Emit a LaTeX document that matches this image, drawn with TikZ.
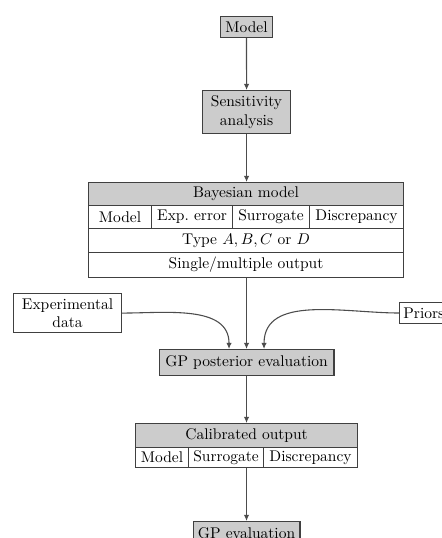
\documentclass[tikz,border=0pt]{standalone}
\usetikzlibrary{calc,arrows.meta}
\begin{document}
\begin{tikzpicture}[x=0.6452pt,y=-0.6452pt,
  cell/.style={draw=black!75,line width=0.7pt,inner sep=0pt,anchor=north west,fill=white},
  graycell/.style={cell,fill=black!20},
  conn/.style={draw=black!70,line width=0.7pt,-{Latex[length=4pt,width=3.5pt]}}]
\useasboundingbox (0,0) rectangle (441,538);
% Model
\node[graycell,minimum width=33.5pt,minimum height=13.5pt] (model) at (220,16) {Model};
% Sensitivity
\node[graycell,minimum width=56.8pt,minimum height=27.7pt,align=center] (sens) at (202,90) {Sensitivity\\analysis};
% Bayesian table
\node[graycell,minimum width=203.2pt,minimum height=14.85pt] (bay) at (88,182) {Bayesian model};
\node[cell,minimum width=40.6pt,minimum height=14.85pt] (bm) at (88,205) {Model};
\node[cell,minimum width=52.3pt,minimum height=14.85pt] (be) at (151,205) {Exp.\ error};
\node[cell,minimum width=49.7pt,minimum height=14.85pt] (bs) at (232,205) {Surrogate};
\node[cell,minimum width=60.6pt,minimum height=14.85pt] (bd) at (309,205) {Discrepancy};
\node[cell,minimum width=203.2pt,minimum height=15.5pt] (btype) at (88,228) {Type $A,B,C$ or $D$};
\node[cell,minimum width=203.2pt,minimum height=16.1pt] (bout) at (88,252) {Single/multiple output};
% Inputs
\node[cell,minimum width=69.7pt,minimum height=25.2pt,align=center] (exp) at (13,293) {Experimental\\data};
\node[cell,minimum height=13.5pt,inner xsep=2.5pt] (pri) at (399,302) {Priors};
% GP posterior
\node[graycell,minimum width=112.9pt,minimum height=16.8pt] (gpp) at (158.5,349) {GP posterior evaluation};
% Calibrated table
\node[graycell,minimum width=143.2pt,minimum height=15.5pt] (cal) at (135,423) {Calibrated output};
\node[cell,minimum width=34.2pt,minimum height=12.9pt] (cm) at (135,447) {Model};
\node[cell,minimum width=48.4pt,minimum height=12.9pt] (cs) at (188,447) {Surrogate};
\node[cell,minimum width=60.6pt,minimum height=12.9pt] (cd) at (263,447) {Discrepancy};
% GP evaluation
\node[graycell,minimum width=69pt,minimum height=15.5pt] (gpe) at (192.5,521) {GP evaluation};
% connectors
\draw[conn] (model.south) -- (sens.north);
\draw[conn] (sens.south) -- (sens.south |- bay.north);
\draw[conn] (bout.south -| gpp.north) -- (gpp.north);
\draw[conn] (exp.east) to[out=0,in=90] ($(gpp.north)+(-17.5,0)$);
\draw[conn] (pri.west) to[out=180,in=90] ($(gpp.north)+(17.5,0)$);
\draw[conn] (gpp.south) -- (gpp.south |- cal.north);
\draw[conn] (cs.south -| gpe.north) -- (gpe.north);
\end{tikzpicture}
\end{document}
